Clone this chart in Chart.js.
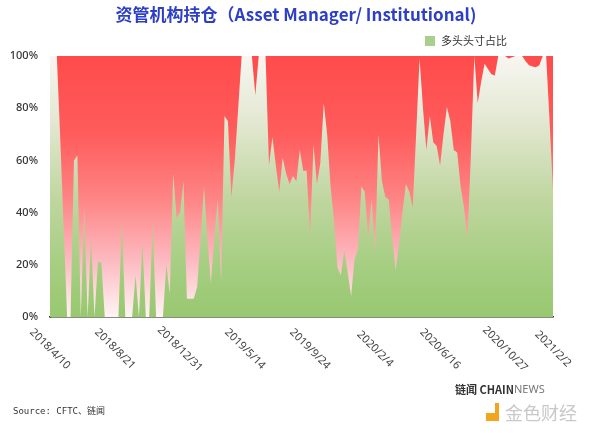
<!DOCTYPE html>
<html>
<head>
<meta charset="utf-8">
<script src="https://cdn.jsdelivr.net/npm/chart.js@4"></script>
<style>
  html, body { margin: 0; padding: 0; background: #fff; }
  #wrap { width: 600px; height: 433px; }
</style>
</head>
<body>
<div id="wrap"><canvas id="chart"></canvas></div>
<script>
// weekly CFTC report dates, first week 2018/4/10
const startDate = new Date(2018, 3, 10);
const weekCount = 148;
const weeks = [];
for (let i = 0; i < weekCount; i++) {
    const d = new Date(startDate.getTime() + i * 7 * 86400000);
    weeks.push(d.getFullYear() + '/' + (d.getMonth() + 1) + '/' + d.getDate());
}

// long position share, %
const longShare = [
    100, 100, 100, 68, 34, 0, 0, 60, 62, 0,
    42, 0, 30, 0, 21, 21, 0, 0, 0, 0,
    0, 37, 0, 0, 0, 16, 0, 29, 0, 0,
    36, 0, 0, 0, 20, 9, 55, 38, 40, 52,
    7, 7, 7, 11.5, 30, 50, 30, 13, 30, 45,
    14, 77, 75, 46, 60, 80, 100, 100, 100, 100,
    85, 100, 100, 100, 58, 69, 58, 48, 61, 55,
    51, 54, 52, 64, 56, 56, 31, 66, 51, 59,
    82, 70, 50, 37, 19, 16, 25.6, 17, 8, 22,
    26, 50, 48, 30, 45, 24.5, 70, 52, 46, 45,
    30, 18, 28, 40, 51, 48, 42, 70, 99, 80,
    64, 77, 67, 65.5, 58, 70, 80.5, 75, 64, 63,
    50, 42, 30, 62, 100, 82, 90, 97, 95, 93,
    92.5, 100, 100, 100, 99, 99.5, 100, 100, 100, 98,
    96.5, 96, 95.7, 96.5, 100, 100, 75, 48
];

const tickLabels = ['2018/4/10', '2018/8/21', '2018/12/31', '2019/5/14', '2019/9/24',
    '2020/2/4', '2020/6/16', '2020/10/27', '2021/2/2'];
const tickIndex = [0, 19, 38, 57, 76, 95, 114, 133, 147];
const yTicks = [0, 20, 40, 60, 80, 100];

const title = '资管机构持仓（Asset Manager/ Institutional)';
const seriesName = '多头头寸占比';

function greenFill(context) {
    const a = context.chart.chartArea;
    if (!a) return '#9ccb77';
    const g = context.chart.ctx.createLinearGradient(0, a.top, 0, a.bottom);
    g.addColorStop(0, '#f7f6f1');
    g.addColorStop(0.25, '#e3e8d2');
    g.addColorStop(0.55, '#bfd69f');
    g.addColorStop(0.8, '#a6ce82');
    g.addColorStop(1, '#98c870');
    return g;
}

const decor = {
    id: 'decor',
    beforeDatasetsDraw(chart) {
        const {ctx, chartArea: a} = chart;
        const g = ctx.createLinearGradient(0, a.top, 0, a.bottom);
        g.addColorStop(0, '#ff4b4b');
        g.addColorStop(0.3, '#ff5c5c');
        g.addColorStop(0.55, '#fe8585');
        g.addColorStop(0.78, '#fcb9c0');
        g.addColorStop(1, '#fff4f4');
        ctx.save();
        ctx.fillStyle = g;
        ctx.fillRect(a.left, a.top, a.right - a.left, a.bottom - a.top);
        ctx.restore();
    },
    afterDraw(chart) {
        const {ctx} = chart;
        const x = chart.scales.x;
        ctx.save();

        // title
        ctx.fillStyle = '#2d3fc6';
        ctx.font = 'bold 17px "Noto Sans CJK SC", "Noto Sans"';
        ctx.textAlign = 'center';
        ctx.textBaseline = 'middle';
        ctx.fillText(title, 296, 15);

        // legend
        ctx.fillStyle = '#a8d08a';
        ctx.fillRect(425, 36, 10, 10);
        ctx.fillStyle = '#333';
        ctx.font = '11px "Noto Sans CJK SC"';
        ctx.textAlign = 'left';
        ctx.fillText(seriesName, 441, 41);

        // rotated date labels
        ctx.fillStyle = '#444';
        ctx.font = '11px "Noto Sans", sans-serif';
        ctx.textAlign = 'center';
        tickIndex.forEach((idx, k) => {
            ctx.save();
            ctx.translate(x.getPixelForValue(idx), 349);
            ctx.rotate(Math.PI / 4);
            ctx.fillText(tickLabels[k], 0, 0);
            ctx.restore();
        });

        // source + brand
        ctx.textAlign = 'left';
        ctx.fillStyle = '#333';
        ctx.font = '9px "DejaVu Sans Mono", "Noto Sans CJK SC"';
        ctx.fillText('Source: CFTC、链闻', 13, 412);

        ctx.font = 'bold 11px "Noto Sans CJK SC", "Noto Sans"';
        ctx.fillStyle = '#333';
        ctx.fillText('链闻 CHAIN', 455, 390);
        const w = ctx.measureText('链闻 CHAIN').width;
        ctx.font = '11px "Noto Sans"';
        ctx.fillStyle = '#777';
        ctx.fillText('NEWS', 455 + w, 390);

        ctx.fillStyle = '#f2a51d';
        ctx.fillRect(486, 413, 9, 8);
        ctx.fillRect(495, 403, 4, 18);
        ctx.fillStyle = '#c9c9c9';
        ctx.font = '18px "Noto Sans CJK SC"';
        ctx.fillText('金色财经', 505, 413);
        ctx.restore();
    }
};

new Chart(document.getElementById('chart'), {
    type: 'line',
    data: {
        labels: weeks,
        datasets: [{
            label: seriesName,
            data: longShare,
            fill: 'origin',
            backgroundColor: greenFill,
            borderWidth: 0,
            pointRadius: 0,
            tension: 0
        }]
    },
    options: {
        responsive: true,
        maintainAspectRatio: false,
        animation: false,
        layout: { padding: { top: 56, right: 47, left: 0, bottom: 0 } },
        plugins: {
            legend: { display: false },
            title: { display: false },
            tooltip: { enabled: false }
        },
        scales: {
            x: {
                z: 1,
                ticks: { display: false },
                grid: { display: false },
                border: { display: true, color: '#333', width: 1.5 },
                afterFit: s => { s.height = 116; }
            },
            y: {
                z: 1,
                min: 0,
                max: 100,
                afterBuildTicks: s => { s.ticks = yTicks.map(v => ({value: v})); },
                ticks: {
                    padding: 12,
                    color: '#333',
                    font: { family: 'Noto Sans', size: 11, weight: '500' },
                    callback: v => v + '%'
                },
                grid: { color: 'rgba(200, 200, 200, 0.6)', drawTicks: false },
                border: { display: true, color: '#555', width: 1 },
                afterFit: s => { s.width = 50; }
            }
        }
    },
    plugins: [decor]
});
</script>
</body>
</html>
